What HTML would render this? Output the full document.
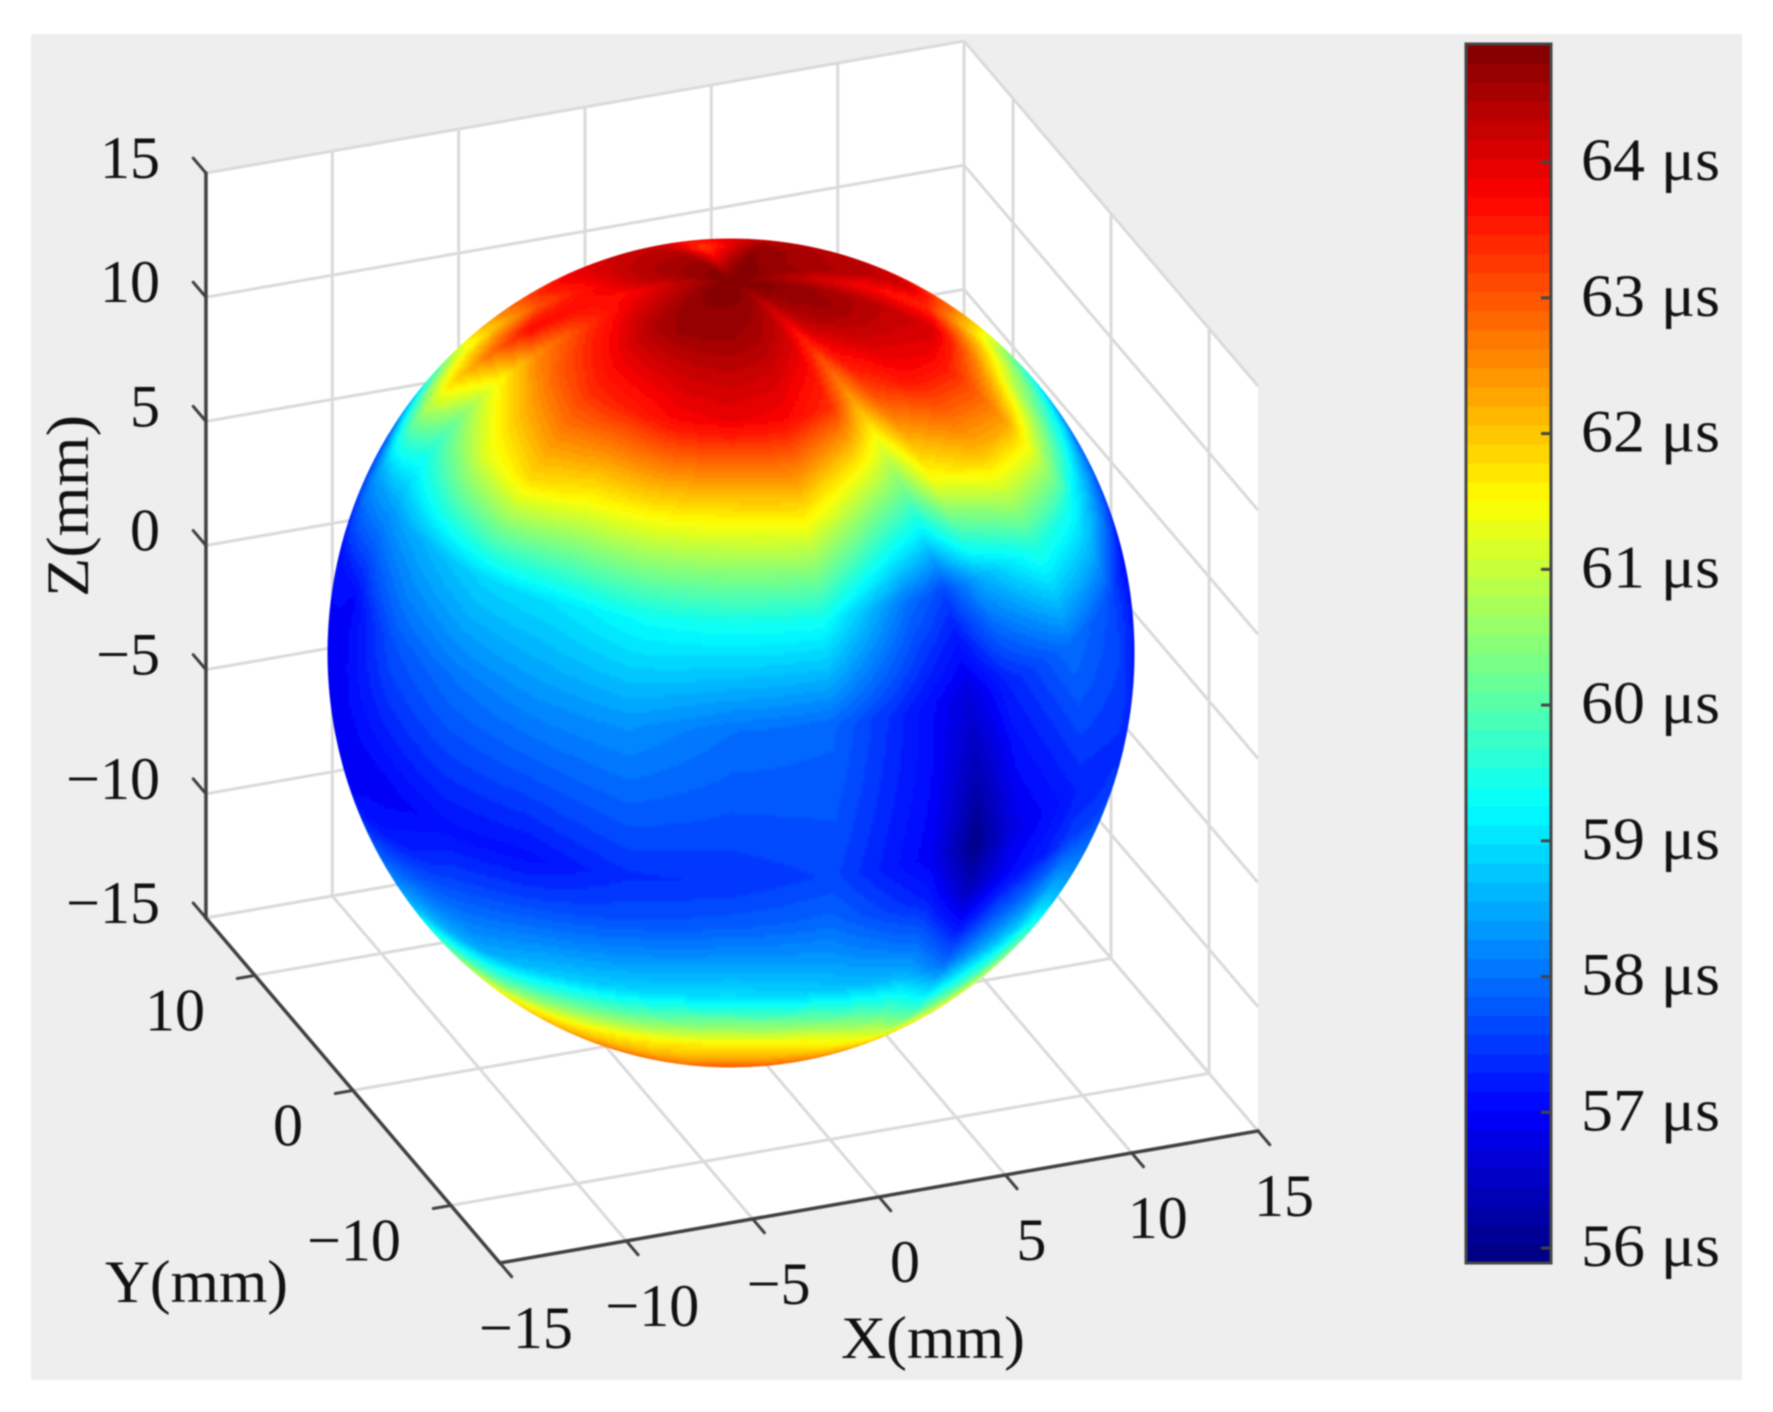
<!DOCTYPE html>
<html lang="en">
<head>
<meta charset="utf-8">
<title>Sphere time-of-flight map</title>
<style>
html,body{margin:0;padding:0;background:#fff;width:1773px;height:1412px;overflow:hidden}
svg{display:block;filter:blur(.7px)}
text{font-family:"Liberation Serif",serif;fill:#111;font-size:60px}
</style>
</head>
<body>
<svg id="chart" xmlns="http://www.w3.org/2000/svg" width="1773" height="1412" viewBox="0 0 1773 1412">
  <defs>
    <filter id="soft" x="-5%" y="-5%" width="110%" height="110%"><feGaussianBlur stdDeviation="1.4"/></filter>
    <clipPath id="sphere-clip"><ellipse cx="731" cy="653" rx="403.5" ry="414.5"/></clipPath>
  </defs>
  <rect x="31" y="34" width="1711" height="1346" fill="#eeeeee"/>
  <g id="walls"></g>
  <g id="grid"></g>
  <g id="axes"></g>
  <g clip-path="url(#sphere-clip)">
    <g id="sphere" filter="url(#soft)" shape-rendering="crispEdges"></g>
  </g>
  <g id="colorbar"></g>
  <text transform="translate(88,506) rotate(-90)" text-anchor="middle" textLength="182" lengthAdjust="spacingAndGlyphs">Z(mm)</text>
  <text x="105" y="1302" textLength="183" lengthAdjust="spacingAndGlyphs">Y(mm)</text>
  <text x="841" y="1358" textLength="184" lengthAdjust="spacingAndGlyphs">X(mm)</text>
</svg>
<script>
// Axis ticks (mm)
const xTicks = [-15, -10, -5, 0, 5, 10, 15];
const yTicks = [-10, 0, 10];
const zTicks = [-15, -10, -5, 0, 5, 10, 15];
const axisLimits = [-15, 15];

// Colour bar (microseconds)
const colorbarRange = [55.89, 64.87];
const colorbarTicks = [56, 57, 58, 59, 60, 61, 62, 63, 64];
const colorbarLevels = 64;

// Surface mesh: latitude / longitude (degrees, longitude from the view meridian)
const latitudes = [90, 75, 60, 45, 30, 15, -7.5, -15, -30, -45, -60, -90];
const longitudes = [-180,-165,-150,-135,-120,-105,-90,-75,-60,-45,-30,-15,0,15,30,37.5,45,60,75,90,105,120,135,150,165];

// Arrival time (us) at each mesh vertex, one array per latitude
const timesLat90  = [64.87,64.87,64.87,64.87,64.87,64.87,64.87,64.87,64.87,64.87,64.87,64.87,64.87,64.87,64.87,64.87,64.87,64.87,64.87,64.87,64.87,64.87,64.87,64.87,64.87];
const timesLat75  = [64.0,63.2,64.4,64.4,64.4,64.2,63.7,63.9,64.2,64.5,64.6,64.6,64.6,64.5,64.2,63.7,64.2,64.5,64.6,64.5,64.0,64.5,64.5,64.6,64.7];
const timesLat60  = [64.0,64.0,64.2,64.1,63.7,63.0,63.7,62.5,62.9,63.3,63.5,63.8,63.9,63.8,63.3,62.3,63.1,63.7,63.9,64.1,63.4,64.2,64.3,64.3,64.0];
const timesLat45  = [63.0,63.0,63.0,63.0,62.3,61.0,61.6,60.2,61.2,61.8,61.5,61.6,61.6,61.7,60.6,60.2,61.4,62.1,62.3,60.8,60.5,61.8,63.0,63.0,63.0];
const timesLat30  = [60.0,60.0,60.0,60.0,58.5,57.5,58.5,58.4,58.6,58.9,59.0,59.3,59.4,59.4,58.0,57.6,58.5,59.6,59.4,58.6,57.8,57.8,60.0,60.0,60.0];
const timesLat15  = [58.0,58.0,58.0,58.0,58.0,57.0,57.1,57.0,57.7,58.0,58.2,58.3,58.0,57.9,57.1,56.7,57.3,58.0,57.7,57.1,57.0,58.0,58.0,58.0,58.0];
const timesLatM7  = [57.2,57.2,57.2,57.2,57.2,57.2,56.8,56.9,56.9,57.1,57.1,57.4,57.45,57.6,56.9,55.95,56.8,57.3,57.4,57.2,57.2,57.2,57.2,57.2,57.2];
const timesLatM15 = [57.5,57.5,57.5,57.5,57.5,57.5,57.1,57.0,57.2,57.5,57.6,57.7,57.8,57.9,57.3,56.4,57.0,57.5,57.5,57.3,57.5,57.5,57.5,57.5,57.5];
const timesLatM30 = [58.0,58.0,58.0,58.0,58.0,58.0,58.0,58.3,58.7,58.5,58.8,58.9,59.0,58.8,58.6,58.0,58.5,59.2,58.2,58.0,58.0,58.0,58.0,58.0,58.0];
const timesLatM45 = [61.0,61.0,61.0,61.0,61.0,61.0,61.0,60.0,61.4,61.6,61.6,61.6,61.7,61.5,60.8,60.2,60.6,61.4,61.0,61.0,61.0,61.0,61.0,61.0,61.0];
const timesLatM60 = [63.0,63.0,63.0,63.0,63.0,63.0,63.0,63.0,63.0,63.0,63.0,62.8,63.0,62.9,62.8,62.8,62.8,62.8,62.8,63.0,63.0,63.0,63.0,63.0,63.0];
const timesLatM90 = [63.0,63.0,63.0,63.0,63.0,63.0,63.0,63.0,63.0,63.0,63.0,63.0,63.0,63.0,63.0,63.0,63.0,63.0,63.0,63.0,63.0,63.0,63.0,63.0,63.0];
const timeRows = [timesLat90,timesLat75,timesLat60,timesLat45,timesLat30,timesLat15,timesLatM7,timesLatM15,timesLatM30,timesLatM45,timesLatM60,timesLatM90];

const NS = 'http://www.w3.org/2000/svg';
function mk(tag, attrs, parent, txt) {
  const el = document.createElementNS(NS, tag);
  for (const k in attrs) el.setAttribute(k, attrs[k]);
  if (txt !== undefined) el.textContent = txt;
  parent.appendChild(el);
  return el;
}
const fmt = v => (v < 0 ? '\u2212' + Math.abs(v) : String(v));

// Orthographic 3-D axis functions (mm -> px)
function px(x, y, z) { return 732 + 25.27 * x - 9.8 * y; }
function py(x, y, z) { return 652 - 4.4 * x - 11.5 * y - 24.83 * z; }
function pts(list) { return list.map(p => px(p[0], p[1], p[2]).toFixed(1) + ',' + py(p[0], p[1], p[2]).toFixed(1)).join(' '); }

const lo = axisLimits[0], hi = axisLimits[1];
const walls = document.getElementById('walls');
const grid = document.getElementById('grid');
const axes = document.getElementById('axes');

// Walls and floor
const leftWall = mk('polygon', {points: pts([[lo,hi,lo],[lo,hi,hi],[hi,hi,hi],[hi,hi,lo]]), fill:'#fff'}, walls);


const rightWall = mk('polygon', {points: pts([[hi,hi,lo],[hi,hi,hi],[hi,lo,hi],[hi,lo,lo]]), fill:'#fff'}, walls);


const floorPlane = mk('polygon', {points: pts([[lo,hi,lo],[lo,lo,lo],[hi,lo,lo],[hi,hi,lo]]), fill:'#fff'}, walls);



function gridLine(a, b) {
  const l = mk('line', {x1:px(...a), y1:py(...a), x2:px(...b), y2:py(...b), stroke:'#dadada', 'stroke-width':3}, grid);
  
  
}
// Grid: z lines on the two walls
zTicks.forEach(z => { gridLine([lo,hi,z],[hi,hi,z]); gridLine([hi,hi,z],[hi,lo,z]); });
// Grid: x lines on back wall and floor
xTicks.forEach(x => { gridLine([x,hi,lo],[x,hi,hi]); gridLine([x,lo,lo],[x,hi,lo]); });
// Grid: y lines on side wall and floor
yTicks.concat([hi]).forEach(y => { gridLine([hi,y,lo],[hi,y,hi]); gridLine([lo,y,lo],[hi,y,lo]); });

function axisLine(a, b, name, w) {
  const l = mk('line', {x1:px(...a), y1:py(...a), x2:px(...b), y2:py(...b), stroke:'#404040', 'stroke-width':w, 'stroke-linecap':'round'}, axes);
  
  
}
axisLine([lo,hi,lo],[lo,hi,hi], 'z-axis-line', 3.5);
axisLine([lo,hi,lo],[lo,lo,lo], 'y-axis-line', 3.5);
axisLine([lo,lo,lo],[hi,lo,lo], 'x-axis-line', 3.5);

// Z ticks + labels
zTicks.forEach(z => {
  axisLine([lo,hi,z],[lo,hi+1.3,z], 'z-axis-tick', 3);
  const t = mk('text', {x:160, y:py(lo,hi,z)+5, 'text-anchor':'end'}, axes, fmt(z));
  
  
});
// Y ticks + labels
yTicks.forEach(y => {
  axisLine([lo,y,lo],[lo-0.7,y,lo], 'y-axis-tick', 3);
  const t = mk('text', {x:px(lo,y,lo)-50, y:py(lo,y,lo)+55, 'text-anchor':'end'}, axes, fmt(y));
  
  
});
// X ticks + labels
xTicks.forEach(x => {
  axisLine([x,lo,lo],[x,lo-1.2,lo], 'x-axis-tick', 3);
  const t = mk('text', {x:px(x,lo,lo)+26, y:py(x,lo,lo)+85, 'text-anchor':'middle'}, axes, fmt(x));
  
  
});

// Jet colour map
function clamp01(v) { return Math.max(0, Math.min(1, v)); }
function jet(t) {
  const r = clamp01(Math.min(4*t-1.5, -4*t+4.5));
  const g = clamp01(Math.min(4*t-0.5, -4*t+3.5));
  const b = clamp01(Math.min(4*t+0.5, -4*t+2.5));
  return 'rgb(' + Math.round(r*255) + ',' + Math.round(g*255) + ',' + Math.round(b*255) + ')';
}
function levelOf(v) {
  const t = (v - colorbarRange[0]) / (colorbarRange[1] - colorbarRange[0]);
  return Math.max(0, Math.min(colorbarLevels - 1, Math.floor(t * colorbarLevels)));
}
const levelColor = i => jet((i + 0.5) / colorbarLevels);

// Surface sampling: bilinear interpolation of the lat/lon mesh
function sampleTime(lat, lon) {
  let r = 0;
  while (r < latitudes.length - 2 && lat < latitudes[r + 1]) r++;
  const ft = clamp01((latitudes[r] - lat) / (latitudes[r] - latitudes[r + 1]));
  const n = longitudes.length;
  let c = n - 1;
  for (let i = 0; i < n - 1; i++) { if (lon >= longitudes[i] && lon < longitudes[i + 1]) { c = i; break; } }
  const c2 = (c + 1) % n;
  const l0 = longitudes[c], l1 = c2 === 0 ? longitudes[0] + 360 : longitudes[c2];
  const fl = clamp01((lon - l0) / (l1 - l0));
  const a = timeRows[r][c] * (1 - fl) + timeRows[r][c2] * fl;
  const b = timeRows[r + 1][c] * (1 - fl) + timeRows[r + 1][c2] * fl;
  return a * (1 - ft) + b * ft;
}

// Sphere raster (orthographic view, elevation 26 degrees), merged into horizontal runs
const sphere = document.getElementById('sphere');
const cx = 731, cy = 653, rx = 403.5, ry = 414.5;
const ce = Math.cos(26 * Math.PI / 180), se = Math.sin(26 * Math.PI / 180);
const step = 3;
for (let sy = cy - ry - 6; sy < cy + ry + 6; sy += step) {
  let runStart = null, runLevel = -1;
  const flush = end => {
    if (runStart === null) return;
    const cell = mk('rect', {x:runStart, y:sy, width:end - runStart + 0.5, height:step + 0.5, fill:levelColor(runLevel)}, sphere);
    
    
    runStart = null;
  };
  for (let sx = cx - rx - 6; sx < cx + rx + 6; sx += step) {
    let nx = (sx + step / 2 - cx) / rx, ny = (cy - sy - step / 2) / ry;
    let r2 = nx * nx + ny * ny;
    if (r2 > 1.06) { flush(sx); continue; }
    if (r2 > 1) { const s = Math.sqrt(r2); nx /= s; ny /= s; r2 = 1; }
    const nz = Math.sqrt(Math.max(0, 1 - r2));
    const lat = Math.asin(Math.max(-1, Math.min(1, ny * ce + nz * se))) * 180 / Math.PI;
    const lon = Math.atan2(nx, nz * ce - ny * se) * 180 / Math.PI;
    const lv = levelOf(sampleTime(lat, lon));
    if (runStart === null) { runStart = sx; runLevel = lv; }
    else if (lv !== runLevel) { flush(sx); runStart = sx; runLevel = lv; }
  }
  flush(cx + rx + 6);
}

// Colour bar
const cbGroup = document.getElementById('colorbar');
const cbLeft = 1466, cbRight = 1551, cbTop = 44, cbBottom = 1263;
function cbY(v) { return cbBottom - (v - colorbarRange[0]) / (colorbarRange[1] - colorbarRange[0]) * (cbBottom - cbTop); }
for (let i = 0; i < colorbarLevels; i++) {
  const v0 = colorbarRange[0] + (colorbarRange[1] - colorbarRange[0]) * i / colorbarLevels;
  const v1 = colorbarRange[0] + (colorbarRange[1] - colorbarRange[0]) * (i + 1) / colorbarLevels;
  const seg = mk('rect', {x:cbLeft, y:cbY(v1), width:cbRight - cbLeft, height:cbY(v0) - cbY(v1) + 0.6, fill:levelColor(i)}, cbGroup);
  
  
}
const cbBox = mk('rect', {x:cbLeft, y:cbTop, width:cbRight - cbLeft, height:cbBottom - cbTop, fill:'none', stroke:'#444', 'stroke-width':3}, cbGroup);


colorbarTicks.forEach(v => {
  const tick = mk('line', {x1:cbRight - 10, x2:cbRight, y1:cbY(v), y2:cbY(v), stroke:'#444', 'stroke-width':3}, cbGroup);
  
  
  const lab = mk('text', {x:1581, y:cbY(v) + 18, textLength:139, lengthAdjust:'spacingAndGlyphs'}, cbGroup, v + ' \u03bcs');
  
  
});
</script>
</body>
</html>
